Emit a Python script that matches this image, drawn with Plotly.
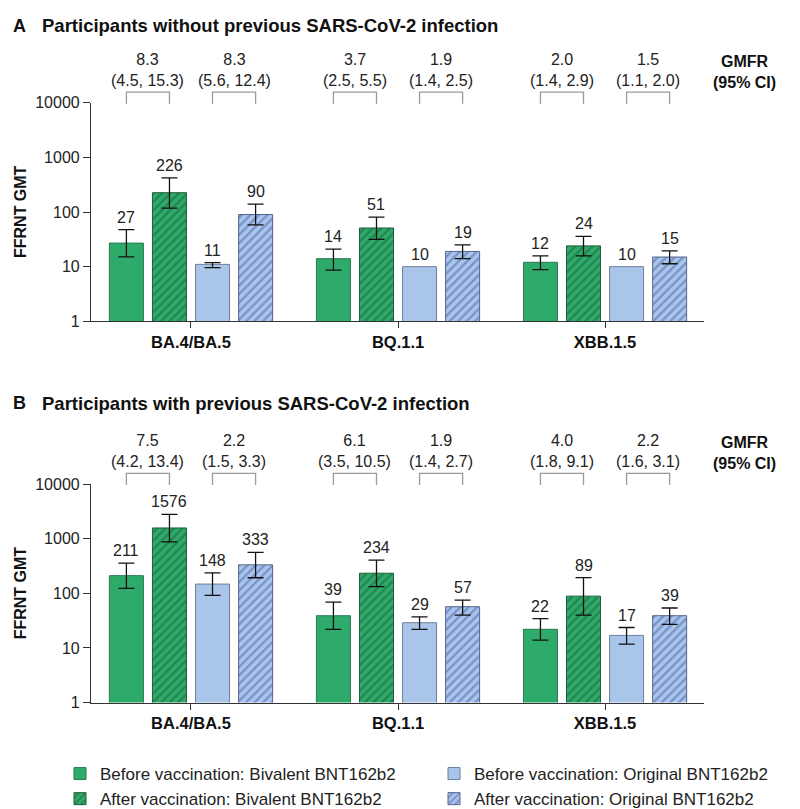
import numpy as np
import plotly.graph_objects as go

W, H = 800, 809

variants = ["BA.4/BA.5", "BQ.1.1", "XBB.1.5"]
series_names = [
    "Before vaccination: Bivalent BNT162b2",
    "After vaccination: Bivalent BNT162b2",
    "Before vaccination: Original BNT162b2",
    "After vaccination: Original BNT162b2",
]

# Panel A: participants without previous infection (GMT, lower CI, upper CI)
a_before_biv = [27, 14, 12]
a_before_biv_lo = [15.1, 8.6, 8.8]
a_before_biv_hi = [47.6, 21, 15.7]
a_after_biv = [226, 51, 24]
a_after_biv_lo = [118, 31.6, 15.7]
a_after_biv_hi = [422, 81, 35.7]
a_before_orig = [11, 10, 10]
a_before_orig_lo = [9.6, None, None]
a_before_orig_hi = [11.8, None, None]
a_after_orig = [90, 19, 15]
a_after_orig_lo = [58, 14, 11.3]
a_after_orig_hi = [139, 25, 19.4]

# Panel B: participants with previous infection
b_before_biv = [211, 39, 22]
b_before_biv_lo = [123, 22, 13.9]
b_before_biv_hi = [357, 69, 34.5]
b_after_biv = [1576, 234, 89]
b_after_biv_lo = [880, 133, 40]
b_after_biv_hi = [2800, 405, 194]
b_before_orig = [148, 29, 17]
b_before_orig_lo = [92, 22, 11.8]
b_before_orig_hi = [237, 37, 23.7]
b_after_orig = [333, 57, 39]
b_after_orig_lo = [193, 40, 27]
b_after_orig_hi = [563, 75, 54]

# GMFR (95% CI): per variant, bivalent then original
a_gmfr = [8.3, 8.3, 3.7, 1.9, 2.0, 1.5]
a_gmfr_lo = [4.5, 5.6, 2.5, 1.4, 1.4, 1.1]
a_gmfr_hi = [15.3, 12.4, 5.5, 2.5, 2.9, 2.0]
b_gmfr = [7.5, 2.2, 6.1, 1.9, 4.0, 2.2]
b_gmfr_lo = [4.2, 1.5, 3.5, 1.4, 1.8, 1.6]
b_gmfr_hi = [13.4, 3.3, 10.5, 2.7, 9.1, 3.1]

y_tickvals = [1, 10, 100, 1000, 10000]

# ---------------- styling ----------------
FONT = "Liberation Sans, Arial, Helvetica, sans-serif"
NARROW = "Liberation Sans Narrow, Arial Narrow, Liberation Sans, Arial, sans-serif"
GREEN = "#2EAA6A"
GREEN_DARK = "#1B5E38"
BLUE = "#A9C5EA"
BLUE_DARK = "#4A5DA6"
styles = [
    dict(color=GREEN, line=dict(color="#2A7A50", width=1)),
    dict(color=GREEN, line=dict(color="#1F5C3A", width=1),
         pattern=dict(shape="/", fgcolor=GREEN_DARK, bgcolor=GREEN, size=6, solidity=0.38)),
    dict(color=BLUE, line=dict(color="#6D7F99", width=1)),
    dict(color=BLUE, line=dict(color="#55648A", width=1),
         pattern=dict(shape="/", fgcolor=BLUE_DARK, bgcolor=BLUE, size=6, solidity=0.38)),
]
legend_ranks = [1, 3, 2, 4]

BARGAP = 0.168
BARGROUPGAP = 0.21
SLOT = (1 - BARGAP) / 4

def px_x(p):
    return p / W

def px_y(p):
    return 1 - p / H

def err_array(vals, bounds, upper):
    out = []
    for v, b in zip(vals, bounds):
        if b is None:
            out.append(np.nan)
        else:
            out.append((b - v) if upper else (v - b))
    return np.array(out, dtype=float)

x_dom = [px_x(83), px_x(696)]
panels = [
    dict(key="A", xa="x", ya="y", top=89, bot=313,
         title="Participants without previous SARS-CoV-2 infection",
         title_y=10, gmfr_y=55, br_top=78, br_bot=90,
         series=[(a_before_biv, a_before_biv_lo, a_before_biv_hi),
                 (a_after_biv, a_after_biv_lo, a_after_biv_hi),
                 (a_before_orig, a_before_orig_lo, a_before_orig_hi),
                 (a_after_orig, a_after_orig_lo, a_after_orig_hi)],
         gmfr=(a_gmfr, a_gmfr_lo, a_gmfr_hi)),
    dict(key="B", xa="x2", ya="y2", top=480, bot=704,
         title="Participants with previous SARS-CoV-2 infection",
         title_y=397, gmfr_y=446, br_top=469, br_bot=481,
         series=[(b_before_biv, b_before_biv_lo, b_before_biv_hi),
                 (b_after_biv, b_after_biv_lo, b_after_biv_hi),
                 (b_before_orig, b_before_orig_lo, b_before_orig_hi),
                 (b_after_orig, b_after_orig_lo, b_after_orig_hi)],
         gmfr=(b_gmfr, b_gmfr_lo, b_gmfr_hi)),
]

fig = go.Figure()
annotations = []
shapes = []
xpos = list(range(len(variants)))

for p in panels:
    for i, (vals, lo, hi) in enumerate(p["series"]):
        fig.add_trace(go.Bar(
            x=xpos, y=vals, name=series_names[i],
            marker=styles[i],
            error_y=dict(type="data", symmetric=False,
                         array=err_array(vals, hi, True),
                         arrayminus=err_array(vals, lo, False),
                         color="#111111", thickness=1.3, width=8),
            showlegend=(p["key"] == "A"), legendrank=legend_ranks[i],
            xaxis=p["xa"], yaxis=p["ya"], hoverinfo="skip",
        ))
        off = (i - 1.5) * SLOT
        for g, (v, h) in enumerate(zip(vals, hi)):
            anchor = h if h is not None else v
            annotations.append(dict(
                x=g + off, y=float(np.log10(anchor)), xref=p["xa"], yref=p["ya"],
                text=str(v), showarrow=False, xanchor="center", yanchor="bottom", yshift=2,
                font=dict(family=NARROW, size=16, color="#222222")))
    # GMFR brackets and labels
    gm, gl, gh = p["gmfr"]
    for k in range(len(gm)):
        g = k // 2
        first = (k % 2) * 2
        x1 = g + (first - 1.5) * SLOT
        x2 = g + (first + 1 - 1.5) * SLOT
        yt, yb = px_y(p["br_top"]), px_y(p["br_bot"])
        shapes.append(dict(type="path", xref=p["xa"], yref="paper",
                           path=f"M {x1},{yb} L {x1},{yt} L {x2},{yt} L {x2},{yb}",
                           line=dict(color="#9A9A9A", width=1.3)))
        annotations.append(dict(
            x=(x1 + x2) / 2, y=px_y(p["gmfr_y"]), xref=p["xa"], yref="paper",
            text=f"{gm[k]:.1f}<br>({gl[k]:.1f}, {gh[k]:.1f})", showarrow=False,
            yanchor="middle", xanchor="center",
            font=dict(family=FONT, size=16, color="#222222")))
    annotations.append(dict(
        x=px_x(736), y=px_y(p["gmfr_y"] + 2), xref="paper", yref="paper",
        text="<b>GMFR</b><br><b>(95% CI)</b>", showarrow=False,
        xanchor="center", yanchor="middle",
        font=dict(family=FONT, size=16, color="#111111")))
    # panel titles
    annotations.append(dict(
        x=px_x(3), y=px_y(p["title_y"]), xref="paper", yref="paper",
        text=f"<b>{p['key']}</b>", showarrow=False, xanchor="left", yanchor="middle",
        font=dict(family=FONT, size=18, color="#111111")))
    annotations.append(dict(
        x=px_x(32), y=px_y(p["title_y"]), xref="paper", yref="paper",
        text=f"<b>{p['title']}</b>", showarrow=False, xanchor="left", yanchor="middle",
        font=dict(family=FONT, size=18.5, color="#111111")))
    # y-axis title
    annotations.append(dict(
        x=px_x(12), y=px_y((p["top"] + p["bot"]) / 2), xref="paper", yref="paper",
        text="<b>FFRNT GMT</b>", showarrow=False, textangle=-90,
        xanchor="center", yanchor="middle",
        font=dict(family=FONT, size=16, color="#111111")))

xaxis_common = dict(
    domain=x_dom, range=[-0.483, 2.478], tickvals=xpos,
    ticktext=[f"<b>{v}</b>" for v in variants], ticks="outside", ticklen=6,
    tickcolor="#333333", showline=True, linecolor="#333333", linewidth=1.2,
    showgrid=False, zeroline=False, fixedrange=True,
    tickfont=dict(family=FONT, size=16.5, color="#111111"),
)
yaxis_common = dict(
    type="log", range=[0, 4], tickvals=y_tickvals,
    ticktext=[str(v) for v in y_tickvals], ticks="outside", ticklen=7,
    tickcolor="#333333", showline=True, linecolor="#333333", linewidth=1.2,
    showgrid=False, zeroline=False, fixedrange=True,
    tickfont=dict(family=FONT, size=16, color="#222222"),
)

fig.update_layout(
    width=W, height=H,
    margin=dict(l=0, r=0, t=0, b=0),
    paper_bgcolor="white", plot_bgcolor="white",
    barmode="group", bargap=BARGAP, bargroupgap=BARGROUPGAP,
    xaxis=dict(**xaxis_common, anchor="y"),
    yaxis=dict(**yaxis_common, anchor="x",
               domain=[px_y(313), px_y(89)]),
    xaxis2=dict(**xaxis_common, anchor="y2"),
    yaxis2=dict(**yaxis_common, anchor="x2",
                domain=[px_y(704), px_y(480)]),
    annotations=annotations,
    shapes=shapes,
    legend=dict(orientation="h", x=px_x(62), xanchor="left",
                y=px_y(759), yanchor="top",
                entrywidth=329, entrywidthmode="pixels",
                font=dict(family=FONT, size=17, color="#222222"),
                bgcolor="rgba(0,0,0,0)", traceorder="normal"),
    font=dict(family=FONT),
)

fig.write_html("out.html")
